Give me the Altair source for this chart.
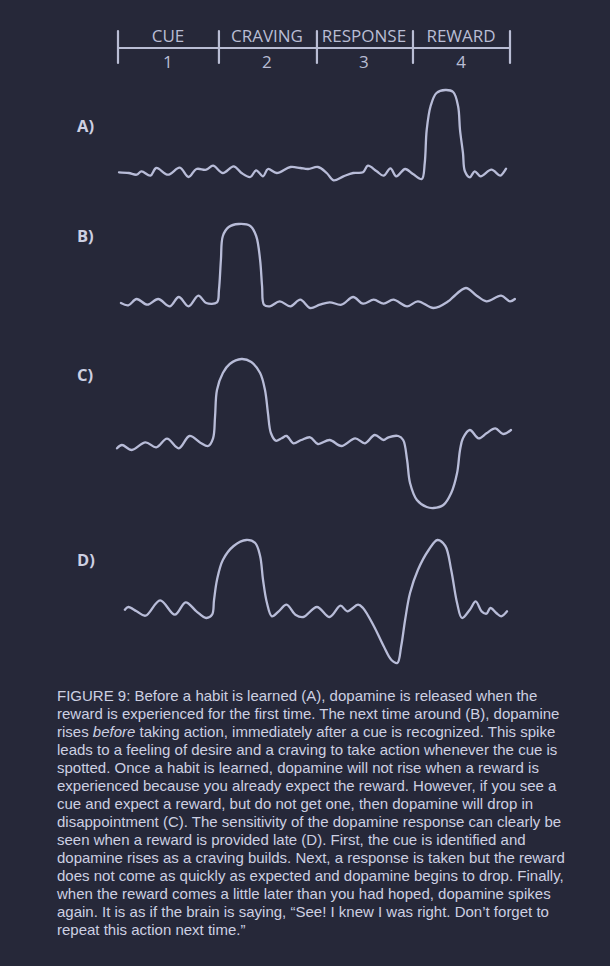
import altair as alt
import pandas as pd

BG = "#262839"
LINE = "#b8bcd8"
TEXT = "#cdd0e2"
HEAD = "#b9bdd4"

# ---- timeline header ----
phase_names = ["CUE", "CRAVING", "RESPONSE", "REWARD"]
phase_numbers = ["1", "2", "3", "4"]
phase_bounds = [0, 1.03, 2.03, 3.01, 4.0]
phase_centers = [0.51, 1.52, 2.51, 3.5]

# ---- dopamine traces (time in phases, level above baseline) ----
a_t = [0.01, 0.11, 0.19, 0.24, 0.33, 0.39, 0.51, 0.63, 0.72, 0.80, 0.90, 0.97, 1.07, 1.18,
       1.26, 1.35, 1.41, 1.48, 1.53, 1.62, 1.76, 1.86, 1.94, 2.04, 2.13, 2.20, 2.30, 2.40,
       2.50, 2.55, 2.64, 2.71, 2.78, 2.84, 2.93, 3.01, 3.10, 3.13, 3.15, 3.19, 3.25, 3.34,
       3.42, 3.47, 3.49, 3.52, 3.54, 3.59, 3.64, 3.70, 3.81, 3.90, 3.93, 3.96]
a_lvl = [0.7, 0, -1.7, 1.7, -2.7, 5, -1.7, 5.3, -4, 4, 3.3, 7.3, 0, 6.7,
         0, -4, 2.7, -3.3, 4, 0, 6, 5, 4, 6, 0, -7.3, -3.3, 0,
         0.7, 7.3, 1.7, -2.7, 4.7, -3.3, 4, -1, -6, 10, 43, 67, 80, 83,
         81, 67, 43, 20, 1.7, -4.3, 1.7, -3.3, 3.3, -2.7, 0, 4.3]

b_t = [0.03, 0.105, 0.19, 0.30, 0.41, 0.53, 0.62, 0.72, 0.82, 0.90, 1.01, 1.03, 1.05, 1.07,
       1.13, 1.23, 1.35, 1.41, 1.45, 1.47, 1.49, 1.55, 1.65, 1.76, 1.86, 1.96, 2.06, 2.16,
       2.28, 2.40, 2.50, 2.61, 2.71, 2.81, 2.95, 3.06, 3.22, 3.37, 3.42, 3.55, 3.66, 3.76,
       3.91, 4.00, 4.05]
b_lvl = [0, -2.3, 4, -1.7, 4, -3.3, 6, -3.3, 7.3, 0, 0.7, 13, 43, 67,
         76, 79, 77, 67, 43, 17, -1.7, -3.3, 1.7, -3.3, 3.3, -5, -1.7, 0.7,
         -1.7, 6, -0.7, 3.3, -0.7, 3.3, -3.3, 1.7, -5, 1.7, 6, 15, 7.3, 1.7,
         7.3, 1.7, 4]

c_t = [-0.01, 0.04, 0.14, 0.28, 0.39, 0.50, 0.62, 0.73, 0.84, 0.92, 0.97, 0.99, 1.01, 1.07,
       1.14, 1.26, 1.36, 1.45, 1.50, 1.53, 1.56, 1.61, 1.67, 1.72, 1.79, 1.87, 1.96, 2.04,
       2.16, 2.28, 2.42, 2.52, 2.62, 2.71, 2.76, 2.86, 2.91, 2.95, 2.98, 3.05, 3.15, 3.22,
       3.32, 3.40, 3.46, 3.49, 3.52, 3.59, 3.68, 3.76, 3.85, 3.93, 4.01]
c_lvl = [-2.3, 1, -4, 3.7, -1.3, 7.3, -2.3, 10, 3.3, 0, 7.7, 29, 56, 73,
         82, 87, 84, 73, 56, 33, 13, 5.3, 7.7, 10, 2.7, 6, 8.7, 2,
         6, 0, 7.7, 2.7, 11, 6, 8.7, 10, 6, -14, -37, -54, -61, -62,
         -59, -47, -27, -4, 7.7, 16, 7.7, 12.7, 17.7, 12, 16]

d_t = [0.07, 0.105, 0.19, 0.28, 0.43, 0.58, 0.69, 0.80, 0.90, 0.96, 0.98, 1.01, 1.07, 1.18,
       1.31, 1.40, 1.45, 1.48, 1.52, 1.57, 1.64, 1.72, 1.81, 1.89, 2.03, 2.16, 2.27, 2.34,
       2.45, 2.50, 2.61, 2.71, 2.79, 2.85, 2.89, 2.93, 2.98, 3.06, 3.17, 3.26, 3.34, 3.40,
       3.46, 3.51, 3.59, 3.65, 3.71, 3.76, 3.80, 3.86, 3.91, 3.97]
d_lvl = [3.3, 6, 1.7, -2.7, 12.7, -1.7, 10.7, 1.7, -5, -1.7, 13, 33, 53, 67,
         73, 70, 57, 33, 10, -3.3, 1.7, 8.3, -1.7, -4, 6, -4, 7.3, 1.7,
         8.3, 5, -13, -33, -47, -50, -33, -6.7, 20, 43, 63, 73, 67, 43,
         10, -5, 3.3, 11.7, 1.7, -0.7, 5, 0, -3.3, 1.7]

row_labels = ["A)", "B)", "C)", "D)"]

caption_lines = [
    "FIGURE 9: Before a habit is learned (A), dopamine is released when the",
    "reward is experienced for the first time. The next time around (B), dopamine",
    None,
    "leads to a feeling of desire and a craving to take action whenever the cue is",
    "spotted. Once a habit is learned, dopamine will not rise when a reward is",
    "experienced because you already expect the reward. However, if you see a",
    "cue and expect a reward, but do not get one, then dopamine will drop in",
    "disappointment (C). The sensitivity of the dopamine response can clearly be",
    "seen when a reward is provided late (D). First, the cue is identified and",
    "dopamine rises as a craving builds. Next, a response is taken but the reward",
    "does not come as quickly as expected and dopamine begins to drop. Finally,",
    "when the reward comes a little later than you had hoped, dopamine spikes",
    "again. It is as if the brain is saying, \u201cSee! I knew I was right. Don\u2019t forget to",
    "repeat this action next time.\u201d",
]
line3_parts = ["rises", "before", "taking action, immediately after a cue is recognized. This spike"]

# ---- scales ----
XS = alt.Scale(domain=[0, 4], range=[118, 510], nice=False, zero=False)
CAP_FONT = "Liberation Sans"
CAP_SIZE = 15
CAP_X = 57


def yscale(base):
    return alt.Scale(domain=[0, 100], range=[base, base - 100], nice=False, zero=False)


# header
head_line = alt.Chart(pd.DataFrame({"t0": [phase_bounds[0]], "t1": [phase_bounds[-1]]})).mark_rule(
    color=HEAD, strokeWidth=2.2, strokeCap="round"
).encode(x=alt.X("t0:Q", scale=XS, axis=None), x2="t1:Q", y=alt.value(48))

head_ticks = alt.Chart(pd.DataFrame({"t": phase_bounds})).mark_rule(
    color=HEAD, strokeWidth=2.2, strokeCap="round"
).encode(x=alt.X("t:Q", scale=XS, axis=None), y=alt.value(31), y2=alt.value(63))

head_df = pd.DataFrame({"t": phase_centers, "name": phase_names, "num": phase_numbers})
head_names = alt.Chart(head_df).mark_text(
    color=HEAD, font="Open Sans", fontSize=17, baseline="alphabetic", align="center"
).encode(x=alt.X("t:Q", scale=XS, axis=None), y=alt.value(41.5), text="name:N")
head_nums = alt.Chart(head_df).mark_text(
    color=HEAD, font="Open Sans", fontSize=17, baseline="alphabetic", align="center"
).encode(x=alt.X("t:Q", scale=XS, axis=None), y=alt.value(67.5), text="num:N")


def trace(t, lvl, base):
    df = pd.DataFrame({"t": t, "level": lvl})
    return alt.Chart(df).mark_line(
        color=LINE, strokeWidth=2.3, interpolate="catmull-rom", strokeCap="round", strokeJoin="round"
    ).encode(
        x=alt.X("t:Q", scale=XS, axis=None),
        y=alt.Y("level:Q", scale=yscale(base), axis=None),
    )


def row_label(label, ypx):
    return alt.Chart(pd.DataFrame({"label": [label]})).mark_text(
        color=TEXT, font="Open Sans", fontWeight="bold", fontSize=16.5, align="left", baseline="alphabetic"
    ).encode(x=alt.value(77), y=alt.value(ypx), text="label:N")


cap_df = pd.DataFrame({"line": list(range(len(caption_lines))),
                       "text": [s if s is not None else "" for s in caption_lines]})
CAP_Y = alt.Scale(domain=[0, 13], range=[701, 935], nice=False, zero=False)
caption = alt.Chart(cap_df).mark_text(
    color=TEXT, font=CAP_FONT, fontSize=CAP_SIZE, align="left", baseline="alphabetic"
).encode(x=alt.value(CAP_X), y=alt.Y("line:Q", scale=CAP_Y, axis=None), text="text:N")

l3 = pd.DataFrame({"line": [2], "a": [line3_parts[0]], "b": [line3_parts[1]], "c": [line3_parts[2]]})
cap3a = alt.Chart(l3).mark_text(
    color=TEXT, font=CAP_FONT, fontSize=CAP_SIZE, align="left", baseline="alphabetic"
).encode(x=alt.value(CAP_X), y=alt.Y("line:Q", scale=CAP_Y, axis=None), text="a:N")
cap3b = alt.Chart(l3).mark_text(
    color=TEXT, font=CAP_FONT, fontSize=CAP_SIZE, fontStyle="italic", align="left", baseline="alphabetic",
    dx=35.8
).encode(x=alt.value(CAP_X), y=alt.Y("line:Q", scale=CAP_Y, axis=None), text="b:N")
cap3c = alt.Chart(l3).mark_text(
    color=TEXT, font=CAP_FONT, fontSize=CAP_SIZE, align="left", baseline="alphabetic",
    dx=82.5
).encode(x=alt.value(CAP_X), y=alt.Y("line:Q", scale=CAP_Y, axis=None), text="c:N")

chart = alt.layer(
    head_line, head_ticks, head_names, head_nums,
    trace(a_t, a_lvl, 173), row_label(row_labels[0], 132),
    trace(b_t, b_lvl, 303), row_label(row_labels[1], 242),
    trace(c_t, c_lvl, 446), row_label(row_labels[2], 381),
    trace(d_t, d_lvl, 613), row_label(row_labels[3], 566),
    caption, cap3a, cap3b, cap3c,
).resolve_scale(y="independent").properties(
    width=610, height=966, autosize="none", padding=0, background=BG
).configure_view(stroke=None)

chart.save("out.html", embed_options={"renderer": "svg", "actions": False})
